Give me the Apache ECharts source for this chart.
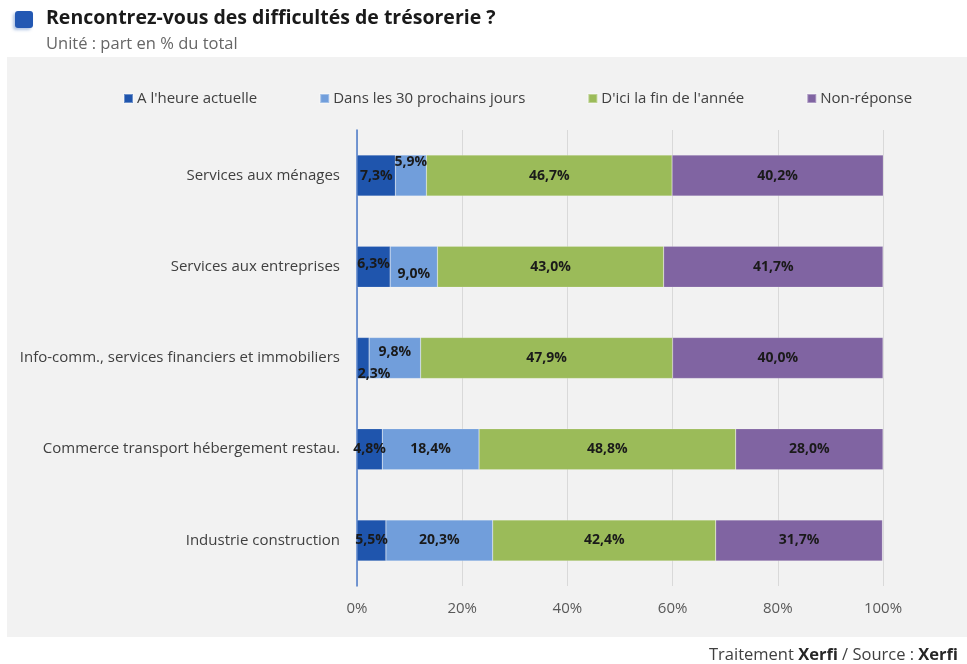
<!DOCTYPE html>
<html>
<head>
<meta charset="utf-8">
<script src="https://cdn.jsdelivr.net/npm/echarts@6/dist/echarts.min.js"></script>
<style>
  * { margin: 0; padding: 0; }
  body { background: #fff; }
</style>
</head>
<body>
<div id="main" style="width: 967px; height: 664px;"></div>
<script>
// données
var categories = [
  'Services aux ménages',
  'Services aux entreprises',
  'Info-comm., services financiers et immobiliers',
  'Commerce transport hébergement restau.',
  'Industrie construction'
];
var seriesNames = ["A l'heure actuelle", 'Dans les 30 prochains jours', "D'ici la fin de l'année", 'Non-réponse'];
var actuelle = [7.3, 6.3, 2.3, 4.8, 5.5];
var trenteJours = [5.9, 9.0, 9.8, 18.4, 20.3];
var finAnnee = [46.7, 43.0, 47.9, 48.8, 42.4];
var nonReponse = [40.2, 41.7, 40.0, 28.0, 31.7];
var xTicks = [0, 20, 40, 60, 80, 100];

var colors = ['#1f55ad', '#719edb', '#9bbb59', '#8064a2'];

// décalages des étiquettes (comme dans Excel, pour les petits segments)
var offsets = {
  '0-1': [0, -3], '0-2': [11, 16],
  '1-0': [0, -14], '1-1': [0, 7], '1-2': [0, -6]
};

var values = [actuelle, trenteJours, finAnnee, nonReponse];
var series = values.map(function (arr, s) {
  return {
    name: seriesNames[s],
    type: 'bar',
    stack: 'total',
    barWidth: '45%',
    itemStyle: { color: colors[s], borderColor: 'rgba(255,255,255,0.35)', borderWidth: 0.5 },
    data: arr.map(function (v, i) {
      var d = { value: v };
      var off = offsets[s + '-' + i];
      if (off) d.label = { offset: off };
      return d;
    }),
    label: {
      show: true,
      position: 'inside',
      fontFamily: 'Open Sans',
      fontWeight: 'bold',
      fontSize: 14,
      color: '#1a1a1a',
      formatter: function (p) { return p.value.toFixed(1).replace('.', ',') + '%'; }
    }
  };
});

var chart = echarts.init(document.getElementById('main'));
chart.setOption({
  animation: false,
  textStyle: { fontFamily: 'Open Sans' },
  graphic: [
    { type: 'rect', z: -10, shape: { x: 7, y: 57, width: 960, height: 580 }, style: { fill: '#f2f2f2' } },
    { type: 'rect', shape: { x: 15, y: 11, width: 18, height: 17, r: 3 }, style: { fill: '#2358b3', shadowColor: 'rgba(35,88,179,0.35)', shadowBlur: 3, shadowOffsetX: -2, shadowOffsetY: 2 } },
    { type: 'text', left: 46, top: 8, style: { text: 'Rencontrez-vous des difficultés de trésorerie ?', font: 'bold 19.5px "Open Sans"', fill: '#1a1a1a' } },
    { type: 'text', left: 46, top: 36, style: { text: 'Unité : part en % du total', font: '16.5px "Open Sans"', fill: '#666666' } },
    {
      type: 'text', right: 9, top: 647,
      style: {
        text: '{n|Traitement }{b|Xerfi}{n| / Source : }{b|Xerfi}',
        rich: {
          n: { font: '16.5px "Open Sans"', fill: '#404040' },
          b: { font: 'bold 16.5px "Open Sans"', fill: '#262626' }
        }
      }
    }
  ],
  legend: {
    left: 118,
    top: 86,
    itemWidth: 9,
    itemHeight: 9,
    itemGap: 62,
    icon: 'rect',
    textStyle: { fontSize: 15, color: '#404040', padding: [0, 0, 0, -1] },
    data: seriesNames
  },
  grid: { left: 357, right: 84, top: 130, bottom: 78, containLabel: false },
  xAxis: {
    type: 'value',
    min: xTicks[0],
    max: xTicks[xTicks.length - 1],
    interval: 20,
    axisLine: { show: false },
    axisTick: { show: false },
    axisLabel: { margin: 15, fontSize: 15, color: '#595959', formatter: '{value}%' },
    splitLine: { lineStyle: { color: '#d9d9d9', width: 1 } }
  },
  yAxis: {
    type: 'category',
    inverse: true,
    data: categories,
    axisLine: { lineStyle: { color: '#4a78c8', width: 1.5 } },
    axisTick: { show: false },
    axisLabel: { margin: 17, fontSize: 15, color: '#404040' }
  },
  series: series
});
</script>
</body>
</html>
